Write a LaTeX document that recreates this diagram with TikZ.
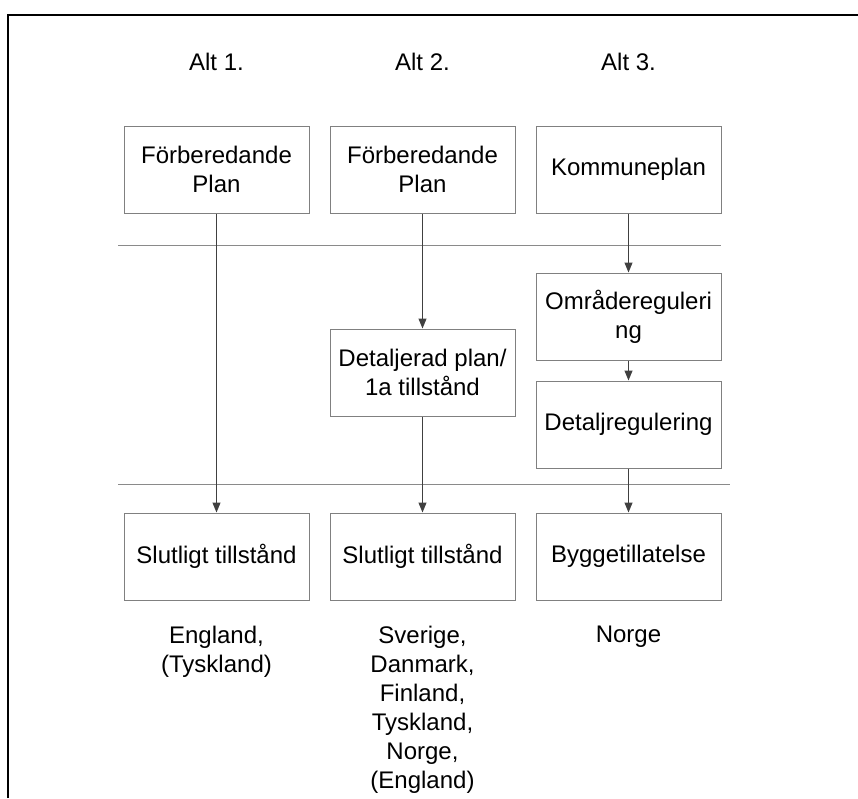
\documentclass[tikz,border=0pt]{standalone}
\usepackage{fontspec}
\setmainfont{Liberation Sans}
\usetikzlibrary{arrows.meta}
\definecolor{boxgray}{HTML}{808080}
\definecolor{rulegray}{HTML}{8A8A8A}
\definecolor{arrowgray}{HTML}{404040}
\begin{document}
\begin{tikzpicture}[x=1pt,y=-1pt,
  every node/.style={font=\fontsize{24}{29}\selectfont, text=black},
  planbox/.style={draw=boxgray, line width=1pt, rectangle, minimum width=185pt,
    minimum height=87pt, inner sep=0pt, align=center},
  colhead/.style={anchor=base, inner sep=0pt},
  country/.style={anchor=north, inner sep=0pt, align=center},
  flow/.style={draw=arrowgray, line width=1.1pt, -{Triangle[length=10pt,width=8pt]}},
  divider/.style={draw=rulegray, line width=1pt}
]
\useasboundingbox (0,0) rectangle (858,798);

% open frame: top and left edges only
\draw[line width=2pt] (7.5,798) -- (7.5,15) -- (858,15);

% column headings
\node[colhead] (h1) at (216.5,70) {Alt 1.};
\node[colhead] (h2) at (422.5,70) {Alt 2.};
\node[colhead] (h3) at (628.5,70) {Alt 3.};

% divider lines between planning levels
\coordinate (d1a) at (118,245);
\coordinate (d1b) at (721,245);
\coordinate (d2a) at (118,484);
\coordinate (d2b) at (730,484);
\draw[divider] (d1a) -- (d1b);
\draw[divider] (d2a) -- (d2b);

% top level plans
\node[planbox] (p1) at (216.5,169.5) {Förberedande\\Plan};
\node[planbox] (p2) at (422.5,169.5) {Förberedande\\Plan};
\node[planbox] (p3) at (628.5,169.5) {Kommuneplan};

% intermediate plans
\node[planbox] (m2) at (422.5,372.5) {Detaljerad plan/\\1a tillstånd};
\node[planbox] (m3a) at (628.5,316.5) {Områdereguleri\\ng};
\node[planbox] (m3b) at (628.5,424.5) {Detaljregulering};

% final permits
\node[planbox] (f1) at (216.5,556.5) {Slutligt tillstånd};
\node[planbox] (f2) at (422.5,556.5) {Slutligt tillstånd};
\node[planbox] (f3) at (628.5,556.5) {Byggetillatelse};

% countries
\node[country] (c1) at (216.5,626) {England,\\(Tyskland)};
\node[country] (c2) at (422.5,626) {Sverige,\\Danmark,\\Finland,\\Tyskland,\\Norge,\\(England)};
\node[country] (c3) at (628.5,626) {Norge};

% process arrows
\draw[flow] (p1) -- (f1);
\draw[flow] (p2) -- (m2);
\draw[flow] (m2) -- (f2);
\draw[flow] (p3) -- (m3a);
\draw[flow] (m3a) -- (m3b);
\draw[flow] (m3b) -- (f3);
\end{tikzpicture}
\end{document}
